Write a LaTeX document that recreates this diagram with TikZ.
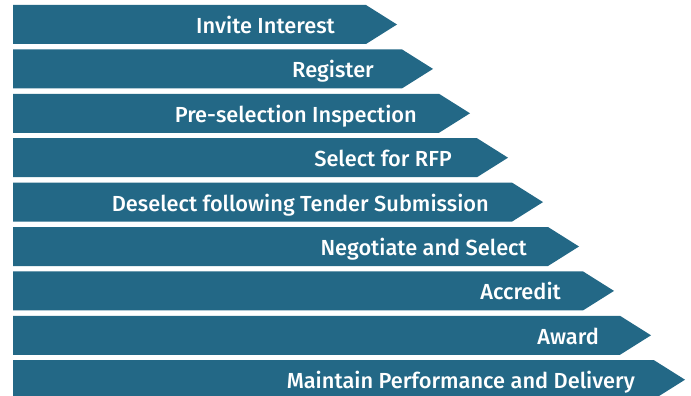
\documentclass[tikz,border=0pt]{standalone}
\usepackage{fontspec}
\setmainfont{Fira Sans}[UprightFont=* Medium]
\definecolor{stepblue}{RGB}{35,104,134}
\tikzset{
  stagebar/.style={fill=stepblue},
  stagelabel/.style={anchor=base east, text=white, inner sep=0pt, font=\fontsize{21.8}{25}\selectfont}
}
% #1 = index (0..8), #2 = x of the point, #3 = label node name,
% #4 = x where the label ends, #5 = label text
\newcommand{\stagearrow}[5]{%
  \pgfmathsetmacro{\ytop}{5+44.4*#1}%
  \pgfmathsetmacro{\ymid}{\ytop+19.5}%
  \pgfmathsetmacro{\ybot}{\ytop+39}%
  \fill[stagebar] (13,\ytop) -- (#2-31,\ytop) -- (#2,\ymid) -- (#2-31,\ybot) -- (13,\ybot) -- cycle;
  \node[stagelabel] (#3) at (#4,\ymid+9) {#5};%
}
\begin{document}
\begin{tikzpicture}[x=1pt,y=-1pt]
  \clip (0,0) rectangle (691,396);
  \fill[white] (0,0) rectangle (691,396);
  \stagearrow{0}{397}{invite}{335}{Invite Interest}
  \stagearrow{1}{433}{register}{374}{Register}
  \stagearrow{2}{470}{inspect}{417}{Pre-selection Inspection}
  \stagearrow{3}{508}{rfp}{452}{Select for RFP}
  \stagearrow{4}{543}{deselect}{489}{Deselect following Tender Submission}
  \stagearrow{5}{579}{negotiate}{527}{Negotiate and Select}
  \stagearrow{6}{614}{accredit}{561}{Accredit}
  \stagearrow{7}{651}{award}{599}{Award}
  \stagearrow{8}{685}{maintain}{635}{Maintain Performance and Delivery}
\end{tikzpicture}
\end{document}
